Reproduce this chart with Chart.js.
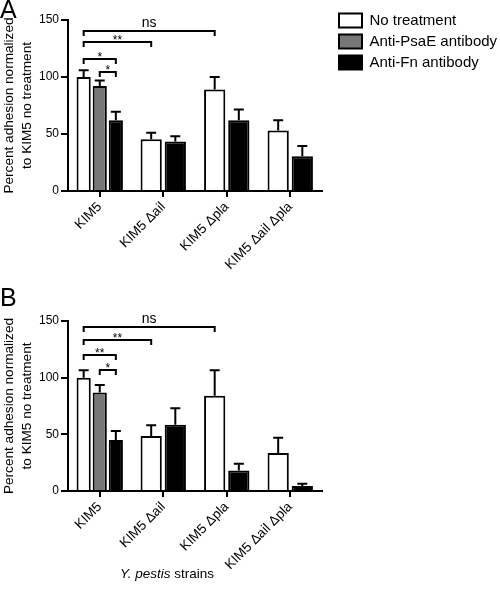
<!DOCTYPE html>
<html><head><meta charset="utf-8">
<script src="https://cdn.jsdelivr.net/npm/chart.js@4"></script>
<style>
html,body{margin:0;padding:0;background:#fff;}
body{width:500px;height:589px;position:relative;overflow:hidden;font-family:"Liberation Sans",Arial,sans-serif;}
.panel{position:absolute;left:0;width:500px;}
#pa{top:0;height:290px;}
#pb{top:290px;height:299px;}
.lbl{position:absolute;left:0;font-size:25px;line-height:25px;color:#000;}
</style></head><body>
<div class="panel" id="pa"><canvas id="ca"></canvas></div>
<div class="panel" id="pb"><canvas id="cb"></canvas></div>
<div class="lbl" style="top:-3px">A</div>
<div class="lbl" style="top:285px">B</div>
<script>
// ---- data ----
const categories = ['KIM5', 'KIM5 \u0394ail', 'KIM5 \u0394pla', 'KIM5 \u0394ail \u0394pla'];
const seriesNames = ['No treatment', 'Anti-PsaE antibody', 'Anti-Fn antibody'];
const yTicks = [0, 50, 100, 150];
const yTitle = ['Percent adhesion normalized', 'to KIM5 no treatment'];
const xTitleItalic = 'Y. pestis';
const xTitleRest = ' strains';

// Panel A
const noTreatA    = [100, 45.5, 89, 53];
const noTreatErrA = [6, 5.5, 11, 9];
const psaeA       = [92, null, null, null];
const psaeErrA    = [5, null, null, null];
const fnA         = [62, 43.5, 62, 30.5];
const fnErrA      = [7.5, 4.5, 9.5, 9];
// brackets: [fromCategory, fromSeries, toCategory, toSeries, yValue, label]
const bracketsA = [
  [0, 0, 2, 0, 140.5, 'ns'],
  [0, 0, 1, 0, 131, '**'],
  [0, 0, 0, 2, 116, '*'],
  [0, 1, 0, 2, 104, '*']
];

// Panel B
const noTreatB    = [100, 48.5, 84, 33.5];
const noTreatErrB = [6.5, 9.5, 22.5, 13.5];
const psaeB       = [87, null, null, null];
const psaeErrB    = [6.5, null, null, null];
const fnB         = [45, 58.5, 18, 4.5];
const fnErrB      = [8, 14.5, 6, 2];
const bracketsB = [
  [0, 0, 2, 0, 145, 'ns'],
  [0, 0, 1, 0, 133, '**'],
  [0, 0, 0, 2, 120, '**'],
  [0, 1, 0, 2, 107, '*']
];

// ---- styles ----
const FONT = '"Liberation Sans", Arial, sans-serif';
Chart.defaults.font.family = FONT;
Chart.defaults.color = '#000';
const fills = ['#ffffff', '#777777', '#000000'];

const annot = {
  id: 'annot',
  afterLayout(chart, args, opts) {
    if (opts.legendShift && chart.legend) {
      const lg = chart.legend;
      lg.left = chart.chartArea.right + opts.legendShift.dx;
      lg.right = chart.width;
      lg.width = lg.right - lg.left;
      lg.top = opts.legendShift.top;
    }
  },
  afterDatasetsDraw(chart, args, opts) {
    const ctx = chart.ctx, ys = chart.scales.y;
    ctx.save();
    ctx.strokeStyle = '#000';
    ctx.fillStyle = '#000';
    ctx.lineWidth = 2;
    ctx.lineCap = 'butt';
    opts.errors.forEach((errs, di) => {
      const meta = chart.getDatasetMeta(di);
      const vals = chart.data.datasets[di].data;
      errs.forEach((e, i) => {
        if (e == null || vals[i] == null) return;
        const x = meta.data[i].x;
        const y0 = ys.getPixelForValue(vals[i]);
        const y1 = ys.getPixelForValue(vals[i] + e);
        ctx.beginPath();
        ctx.moveTo(x, y0); ctx.lineTo(x, y1);
        ctx.moveTo(x - 5, y1); ctx.lineTo(x + 5, y1);
        ctx.stroke();
      });
    });
    opts.brackets.forEach(([c0, s0, c1, s1, v, label]) => {
      const xa = chart.getDatasetMeta(s0).data[c0].x;
      const xb = chart.getDatasetMeta(s1).data[c1].x;
      const yy = Math.round(ys.getPixelForValue(v));
      ctx.beginPath();
      ctx.moveTo(xa, yy + 5); ctx.lineTo(xa, yy); ctx.lineTo(xb, yy); ctx.lineTo(xb, yy + 5);
      ctx.stroke();
      ctx.textAlign = 'center';
      ctx.textBaseline = 'alphabetic';
      if (label === 'ns') {
        ctx.font = '14px ' + FONT;
        ctx.fillText(label, (xa + xb) / 2, yy - 4);
      } else {
        ctx.font = '12px ' + FONT;
        ctx.fillText(label, (xa + xb) / 2, yy + 2);
      }
    });
    if (opts.xTitle) {
      const t = opts.xTitle;
      ctx.textBaseline = 'alphabetic';
      ctx.textAlign = 'left';
      ctx.font = 'italic 13.5px ' + FONT;
      const w1 = ctx.measureText(xTitleItalic).width;
      ctx.font = '13.5px ' + FONT;
      const w2 = ctx.measureText(xTitleRest).width;
      const x0 = chart.chartArea.left + t.dx - (w1 + w2) / 2;
      ctx.font = 'italic 13.5px ' + FONT;
      ctx.fillText(xTitleItalic, x0, t.y);
      ctx.font = '13.5px ' + FONT;
      ctx.fillText(xTitleRest, x0 + w1, t.y);
    }
    ctx.restore();
  }
};

function makeChart(id, nt, ps, fn, errs, brackets, cfg) {
  return new Chart(document.getElementById(id), {
    type: 'bar',
    data: {
      labels: categories,
      datasets: [
        { label: seriesNames[0], data: nt, backgroundColor: fills[0], borderColor: '#000', borderWidth: 2 },
        { label: seriesNames[1], data: ps, backgroundColor: fills[1], borderColor: '#000', borderWidth: 2 },
        { label: seriesNames[2], data: fn, backgroundColor: fills[2], borderColor: '#000', borderWidth: 2 }
      ]
    },
    options: {
      responsive: true,
      maintainAspectRatio: false,
      animation: false,
      datasets: { bar: { skipNull: true, categoryPercentage: 0.76, barPercentage: 0.88, borderSkipped: 'start' } },
      layout: { padding: cfg.padding },
      plugins: {
        tooltip: { enabled: false },
        legend: cfg.legend,
        annot: { errors: errs, brackets: brackets, xTitle: cfg.xTitle, legendShift: cfg.legendShift }
      },
      scales: {
        x: {
          ticks: { color: '#000', font: { size: 13.5 }, minRotation: 45, maxRotation: 45, padding: 2, autoSkip: false },
          grid: { offset: false, drawOnChartArea: false, drawTicks: true, tickLength: 6, color: '#000', lineWidth: 2 },
          border: { display: true, color: '#000', width: 2 },
          afterFit: s => { s.height = cfg.xHeight; }
        },
        y: {
          min: 0, max: 150,
          afterBuildTicks: s => { s.ticks = yTicks.map(v => ({ value: v })); },
          ticks: { color: '#000', font: { size: 12 }, padding: 2 },
          grid: { drawOnChartArea: false, drawTicks: true, tickLength: 7, color: '#000', lineWidth: 2 },
          border: { display: true, color: '#000', width: 2 },
          title: { display: true, text: yTitle, color: '#000', font: { size: 13.6, lineHeight: 1.32 }, padding: 0 },
          afterFit: s => { s.width = 68; }
        }
      }
    },
    plugins: [annot]
  });
}

makeChart('ca', noTreatA, psaeA, fnA, [noTreatErrA, psaeErrA, fnErrA], bracketsA, {
  padding: { top: 20, left: 0, right: 28, bottom: 0 },
  xHeight: 99,
  legend: {
    display: true, position: 'right', align: 'start', maxWidth: 150,
    labels: { boxWidth: 23, boxHeight: 14, padding: 6, color: '#000', font: { size: 15 } }
  },
  legendShift: { dx: 11, top: 7 },
  xTitle: null
});

makeChart('cb', noTreatB, psaeB, fnB, [noTreatErrB, psaeErrB, fnErrB], bracketsB, {
  padding: { top: 31, left: 0, right: 178, bottom: 0 },
  xHeight: 98,
  legend: { display: false },
  legendShift: null,
  xTitle: { dx: 99, y: 288 }
});
</script>
</body></html>
